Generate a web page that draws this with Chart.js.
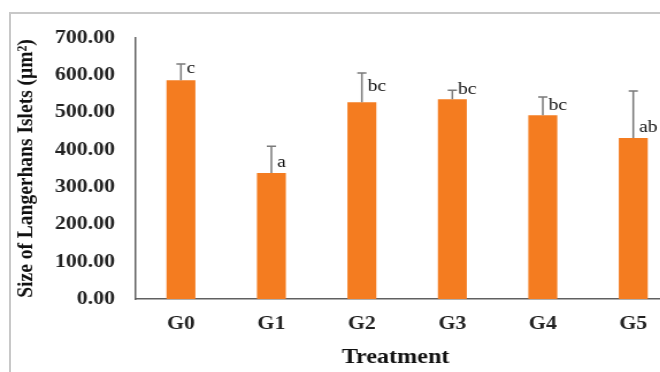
<!DOCTYPE html>
<html>
<head>
<meta charset="utf-8">
<script src="https://cdn.jsdelivr.net/npm/chart.js@4"></script>
<style>
    html, body { margin: 0; padding: 0; background: #fff; overflow: hidden; width: 660px; height: 372px; }
    #frame {
        position: absolute; left: 9px; top: 12px; width: 700px; height: 400px;
        border-top: 2px solid #c8c8c8; border-left: 2px solid #c8c8c8;
    }
    #wrap {
        position: absolute; left: 0; top: 0;
        transform: scaleX(1.15); transform-origin: 0 0;
    }
</style>
</head>
<body>
<div id="frame"></div>
<div id="wrap"><canvas id="chart" width="590" height="372"></canvas></div>
<script>
// ---- Data ----
const groups = ["G0", "G1", "G2", "G3", "G4", "G5"];
const isletSize = [587, 338, 528, 536, 493, 432];
const errorTop = [630, 410, 606, 560, 542, 558];
const sigLetters = ["c", "a", "bc", "bc", "bc", "ab"];
const letterLevel = [617, 367, 569, 563, 520, 459];
const yTicks = [0, 100, 200, 300, 400, 500, 600, 700];

const SERIF = "'Liberation Serif', 'Times New Roman', serif";

// error bars, significance letters and the x title (sits a bit left of centre)
const annotations = {
    id: "annotations",
    afterDatasetsDraw(chart) {
        const { ctx } = chart;
        const x = chart.scales.x;
        const y = chart.scales.y;
        ctx.save();
        ctx.strokeStyle = "#7a7a7a";
        ctx.lineWidth = 1.5;
        groups.forEach((g, i) => {
            const cx = x.getPixelForValue(i);
            const y0 = y.getPixelForValue(isletSize[i]);
            const y1 = y.getPixelForValue(errorTop[i]);
            ctx.beginPath();
            ctx.moveTo(cx, y0);
            ctx.lineTo(cx, y1);
            ctx.moveTo(cx - 4, y1);
            ctx.lineTo(cx + 4, y1);
            ctx.stroke();

            ctx.fillStyle = "#111";
            ctx.font = `17px ${SERIF}`;
            ctx.textAlign = "left";
            ctx.textBaseline = "middle";
            ctx.fillText(sigLetters[i], cx + 5, y.getPixelForValue(letterLevel[i]));
        });

        ctx.fillStyle = "#111";
        ctx.font = `bold 21px ${SERIF}`;
        ctx.textAlign = "center";
        ctx.textBaseline = "middle";
        ctx.fillText("Treatment", (x.left + x.right) / 2 - 10, x.bottom - 14);
        ctx.restore();
    },
};

const ctx = document.getElementById("chart").getContext("2d");
new Chart(ctx, {
    type: "bar",
    data: {
        labels: groups,
        datasets: [{
            data: isletSize,
            backgroundColor: "#f47c20",
            barPercentage: 0.32,
            categoryPercentage: 1,
        }],
    },
    options: {
        responsive: false,
        animation: false,
        devicePixelRatio: 1,
        layout: { padding: { left: 0, right: 0, top: 38, bottom: 0 } },
        plugins: {
            legend: { display: false },
            tooltip: { enabled: false },
        },
        scales: {
            x: {
                grid: { display: false, drawTicks: false },
                border: { display: true, color: "#606060", width: 1.5 },
                ticks: {
                    color: "#222",
                    padding: 14,
                    font: { family: SERIF, size: 19, weight: "bold" },
                },
                afterFit: (s) => { s.height = 73; },
            },
            y: {
                min: 0,
                max: 700,
                afterBuildTicks: (s) => { s.ticks = yTicks.map((v) => ({ value: v })); },
                grid: { display: false, drawTicks: false },
                border: { display: true, color: "#606060", width: 1.5 },
                ticks: {
                    color: "#222",
                    padding: 18,
                    font: { family: SERIF, size: 19, weight: "bold" },
                    callback: (v) => Number(v).toFixed(2),
                },
                title: {
                    display: true,
                    text: "Size of Langerhans Islets (μm²)",
                    color: "#111",
                    padding: { top: 11, bottom: 0 },
                    font: { family: SERIF, size: 19.5, weight: "bold" },
                },
                afterFit: (s) => { s.width = 118; },
            },
        },
    },
    plugins: [annotations],
});
</script>
</body>
</html>
